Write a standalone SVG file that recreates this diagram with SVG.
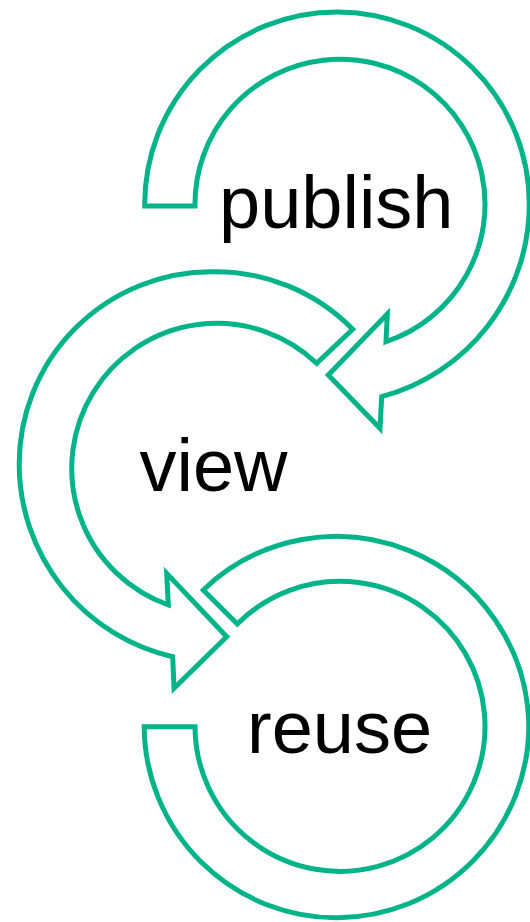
<svg xmlns="http://www.w3.org/2000/svg" width="530" height="922" viewBox="0 0 530 922">
<style>
.arr{fill:none;stroke:#00B388;stroke-width:5;stroke-linejoin:miter}
.lbl{font-family:"Liberation Sans",Arial,sans-serif;font-size:74px;fill:#000}
</style>
<rect width="530" height="922" fill="#fff"/>
<g id="connectors">
<path class="arr" d="M144.7,206 A192.3,192.3 0 0 1 337,12 A192.3,192.3 0 0 1 529.3,204.3 A199.2,199.2 0 0 1 381.7,396.7 L380,428.3 L328.3,375 L387.3,314 L386,341.7 A145,145 0 1 0 195,206 Z"/>
<path class="arr" d="M352.7,329.3 A192.3,192.3 0 0 0 211.5,271.7 A192.3,192.3 0 0 0 19.2,464 A197.7,197.7 0 0 0 172.7,656.7 L174,688.3 L226.7,636.7 L166.7,573.3 L168.3,605 A145,145 0 1 1 316.7,363.3 Z"/>
<path class="arr" d="M144.2,726.7 A192.3,192.3 0 0 0 528.8,724.2 A192.3,192.3 0 0 0 203.3,590 L237.3,624 A145,145 0 1 1 195,726.7 Z"/>
</g>
<g id="publish"><text class="lbl" x="219" y="228.3">publish</text></g>
<g id="view"><text class="lbl" x="139.5" y="490.7">view</text></g>
<g id="reuse"><text class="lbl" x="247" y="753.3">reuse</text></g>
</svg>
